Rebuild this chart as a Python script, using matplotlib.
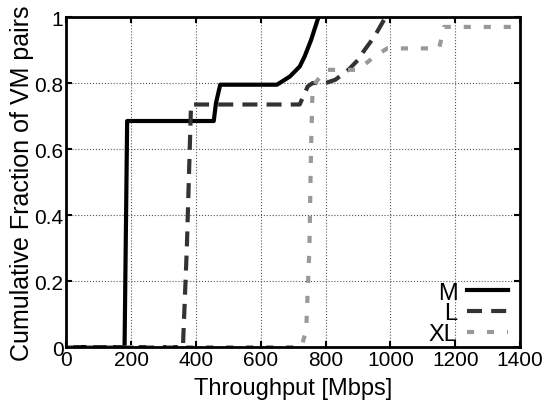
import matplotlib
matplotlib.use('Agg')
import matplotlib.pyplot as plt

plt.rcParams['font.family'] = ['Liberation Sans', 'DejaVu Sans']

# CDF of throughput per VM size
m_x = [0, 180, 188, 455, 462, 475, 650, 690, 720, 735, 755, 778]
m_y = [0, 0, 0.685, 0.685, 0.74, 0.795, 0.795, 0.82, 0.85, 0.88, 0.93, 1.0]

l_x = [0, 360, 372, 385, 720, 745, 760, 800, 830, 870, 900, 920, 950, 985]
l_y = [0, 0, 0.3, 0.735, 0.735, 0.79, 0.80, 0.80, 0.81, 0.84, 0.87, 0.90, 0.94, 1.0]

xl_x = [0, 725, 740, 750, 755, 760, 800, 900, 950, 990, 1150, 1165, 1380]
xl_y = [0, 0, 0.05, 0.3, 0.6, 0.79, 0.84, 0.84, 0.88, 0.905, 0.905, 0.97, 0.97]

labels = ['M', 'L', 'XL']

fig = plt.figure(figsize=(5.47, 4.10), dpi=100)
ax = fig.add_axes([0.121, 0.151, 0.830, 0.805])

ax.plot(m_x, m_y, color='black', lw=3, label=labels[0])
ax.plot(l_x, l_y, color='#333333', lw=3, dashes=(3.6, 2.2), label=labels[1])
ax.plot(xl_x, xl_y, color='#999999', lw=3, dashes=(1.7, 3.1), label=labels[2])

ax.set_xlim(0, 1400)
ax.set_ylim(0, 1)
ax.set_xticks(range(0, 1401, 200))
ax.set_yticks([0, 0.2, 0.4, 0.6, 0.8, 1])
ax.set_yticklabels(['0', '0.2', '0.4', '0.6', '0.8', '1'])
ax.grid(True, color='#555555', linestyle=':', linewidth=0.8)
ax.tick_params(direction='in', top=True, right=True, labelsize=15, length=4, width=1.5, pad=2)
for s in ax.spines.values():
    s.set_linewidth(2)

ax.set_xlabel('Throughput [Mbps]', fontsize=17, labelpad=6)
ax.set_ylabel('Cumulative Fraction of VM pairs', fontsize=18, labelpad=0)

ax.legend(loc='lower right', bbox_to_anchor=(1.0, -0.03), frameon=False, markerfirst=False,
          fontsize=17, handlelength=1.75, handletextpad=0.4, labelspacing=-0.05,
          borderaxespad=0.1)

fig.savefig('out.png', dpi=100)
